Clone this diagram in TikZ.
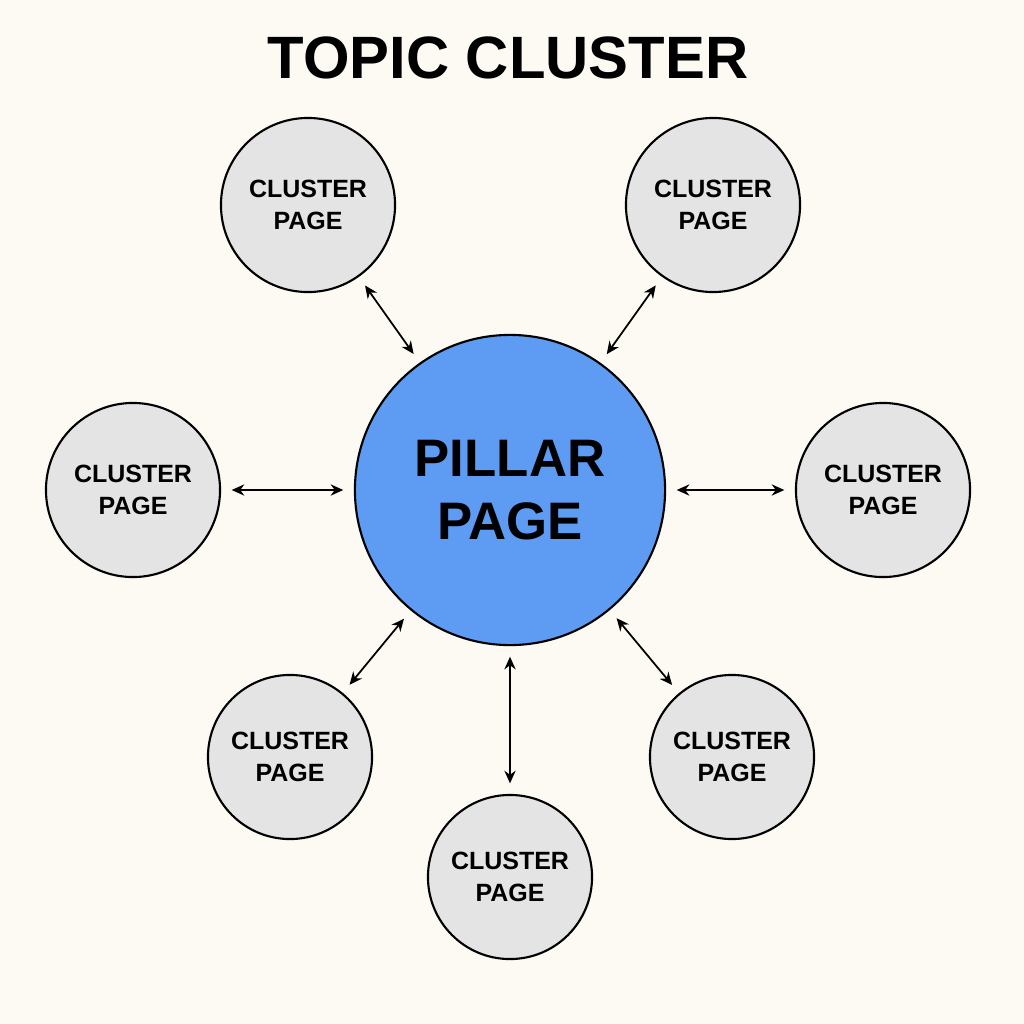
\documentclass[tikz,border=0pt]{standalone}
\usepackage{fontspec}
\setmainfont{Liberation Sans}
\usetikzlibrary{arrows.meta}
\definecolor{bg}{HTML}{FCFAF3}
\definecolor{pill}{HTML}{5E9BF2}
\definecolor{clu}{HTML}{E4E4E4}
\begin{document}
\begin{tikzpicture}[x=0.01cm,y=-0.01cm,
  cl/.style={circle,draw=black,line width=0.6pt,fill=clu,inner sep=0pt,align=center,font=\fontsize{7.1}{8.9}\selectfont\bfseries},
  big/.style={cl,minimum size=1.74cm},
  sm/.style={cl,minimum size=1.64cm},
  ar/.style={{Stealth[length=3.6pt,width=3.2pt]}-{Stealth[length=3.6pt,width=3.2pt]},line width=0.5pt,shorten <=3pt,shorten >=3pt}]
\fill[bg] (0,0) rectangle (1024,1024);
\useasboundingbox (0,0) rectangle (1024,1024);
\node[font=\fontsize{17}{20}\selectfont\bfseries] (title) at (508,58) {TOPIC CLUSTER};
\node[circle,draw=black,line width=0.6pt,fill=pill,minimum size=3.1cm,align=center,font=\fontsize{15}{18}\selectfont\bfseries] (p) at (510,490) {PILLAR\\PAGE};
\node[big] (tl) at (308,205) {CLUSTER\\PAGE};
\node[big] (tr) at (713,205) {CLUSTER\\PAGE};
\node[big] (l) at (133,490) {CLUSTER\\PAGE};
\node[big] (r) at (883,490) {CLUSTER\\PAGE};
\node[sm] (bl) at (290,757) {CLUSTER\\PAGE};
\node[sm] (b) at (510,877) {CLUSTER\\PAGE};
\node[sm] (br) at (732,757) {CLUSTER\\PAGE};
\foreach \n in {tl,tr,l,r,bl,b,br} \draw[ar] (p) -- (\n);
\end{tikzpicture}
\end{document}
